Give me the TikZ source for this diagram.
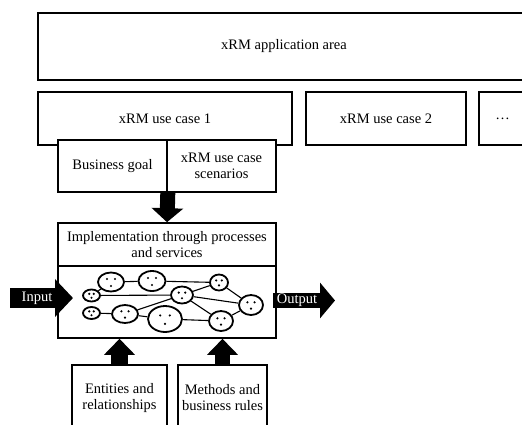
\documentclass[tikz,border=0pt]{standalone}
\usepackage{fontspec}
\setmainfont{Liberation Serif}
\usetikzlibrary{positioning, arrows.meta, shapes.geometric, calc}

\begin{document}
\begin{tikzpicture}[x=1pt, y=-1pt, font=\fontsize{14.5}{16}\selectfont,
      box/.style={draw, line width=1.6pt, fill=white, align=center,
                  inner sep=0pt},
      unit/.style={draw, ellipse, line width=1.8pt, fill=white,
                   inner sep=0pt},
      link/.style={line width=1.1pt},
      blk/.style={draw=black, line width=#1},
      lbl/.style={text=white, inner sep=0pt}]
    \useasboundingbox (0,0) rectangle (522,424);
    \clip (0,0) rectangle (522,424);
    % upper level
    \node[box, minimum width=492pt, minimum height=67pt] (area) at (284,46.5) {xRM application area};
    \node[box, minimum width=254pt, minimum height=53pt] (uc1)  at (165,118.5) {xRM use case 1};
    \node[box, minimum width=160pt, minimum height=53pt] (uc2)  at (386,118.5) {xRM use case 2};
    \node[box, minimum width=47pt,  minimum height=53pt] (ucx)  at (502.5,118.5) {\dots};
    \node[box, minimum width=109pt, minimum height=52pt] (goal) at (112.5,166) {Business goal};
    \node[box, minimum width=109pt, minimum height=52pt] (scen) at (221.5,166) {xRM use case\\scenarios};
    % implementation
    \node[box, minimum width=218pt, minimum height=43pt] (impl) at (167,244.5) {Implementation through processes\\and services};
    \node[box, minimum width=218pt, minimum height=72pt] (net)  at (167,302) {};
    \node[box, minimum width=95pt, minimum height=66pt] (ent)  at (119.5,398) {Entities and\\relationships};
    \node[box, minimum width=89pt, minimum height=66pt] (meth) at (222.5,398) {Methods and\\business rules};
    % network of units
    \node[unit, minimum width=26pt, minimum height=19pt] (e1)  at (111,282) {};
    \node[unit, minimum width=27pt, minimum height=20pt] (e2)  at (152,281) {};
    \node[unit, minimum width=17pt, minimum height=12pt] (e3)  at (91.5,295.5) {};
    \node[unit, minimum width=17pt, minimum height=12pt] (e4)  at (91.5,313) {};
    \node[unit, minimum width=26pt, minimum height=18pt] (e5)  at (125,314) {};
    \node[unit, minimum width=34pt, minimum height=26pt] (e6)  at (165,319) {};
    \node[unit, minimum width=22pt, minimum height=17pt] (e7)  at (182,295) {};
    \node[unit, minimum width=18pt, minimum height=16pt] (e8)  at (219,282.5) {};
    \node[unit, minimum width=24pt, minimum height=20pt] (e9)  at (251,305) {};
    \node[unit, minimum width=24pt, minimum height=20pt] (e10) at (221,321) {};
    \foreach \a/\b in {e1/e2, e1/e3, e3/e7, e5/e7, e4/e5, e5/e6, e6/e10,
                       e7/e8, e2/e8, e7/e9, e7/e10, e8/e9, e10/e9}
      \draw[link] (\a) -- (\b);
    \foreach \n/\s in {e1/1, e2/1, e3/0.55, e4/0.55, e5/0.9, e6/1.2,
                       e7/0.8, e8/0.7, e9/0.9, e10/0.9}
      \foreach \dx/\dy in {-4/-3, 4/-3, 0/4}
        \fill ($(\n.center)+(\dx*\s,\dy*\s)$) circle (1.2);
    % block arrows
    \draw[blk=15pt, -{Triangle[width=31pt, length=14pt]}] (goal.south east) -- (impl.north);
    \draw[blk=17pt, -{Triangle[width=30pt, length=16pt]}] (ent.north) -- (ent.north |- net.south);
    \draw[blk=15pt, -{Triangle[width=30pt, length=16pt]}] (meth.north) -- (meth.north |- net.south);
    \coordinate (inS)  at (10,298);
    \coordinate (inE)  at (73,298);
    \coordinate (outS) at (273,300.5);
    \coordinate (outE) at (335,300.5);
    \draw[blk=20pt, -{Triangle[width=37pt, length=18pt]}] (inS) -- (inE);
    \draw[blk=15pt, -{Triangle[width=35pt, length=15pt]}] (outS) -- (outE);
    \node[lbl] (input)  at (37,298)    {Input};
    \node[lbl] (output) at (297,300.5) {Output};
\end{tikzpicture}
\end{document}
